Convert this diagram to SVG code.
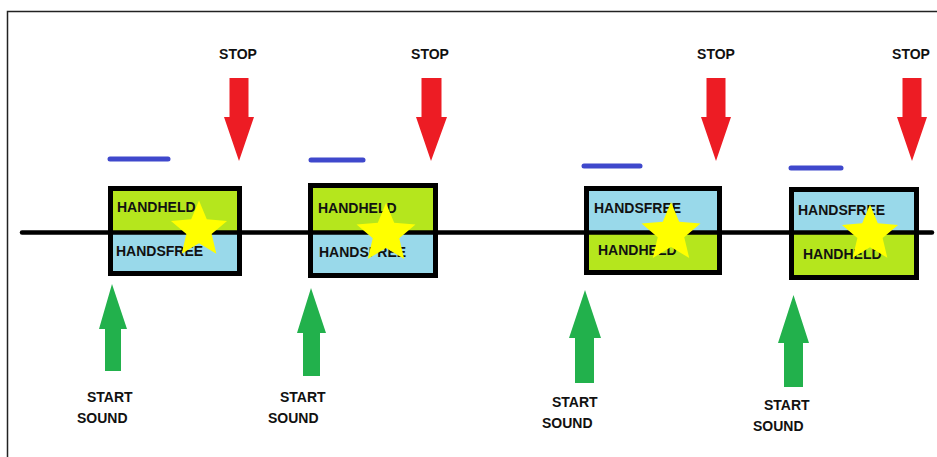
<svg xmlns="http://www.w3.org/2000/svg" xmlns:xlink="http://www.w3.org/1999/xlink" width="937" height="457" viewBox="0 0 937 457">
<style>
.lbl{font-family:"Liberation Sans",Arial,sans-serif;font-weight:bold;font-size:14px;fill:#111}
.green{fill:#b5e61d}
.blue{fill:#99d9ea}
.border{fill:none;stroke:#000;stroke-width:5}
.star{fill:#ffff00}
.bar{stroke:#3f48cc;stroke-width:5;stroke-linecap:round}
.red{fill:#ed1c24}
.go{fill:#22b14c}
</style>
<defs>
<path id="star" d="M0,-1 L0.2646,-0.364 L0.951,-0.309 L0.428,0.139 L0.588,0.809 L0,0.45 L-0.588,0.809 L-0.428,0.139 L-0.951,-0.309 L-0.2646,-0.364 Z"/>
</defs>
<rect width="937" height="457" fill="#fff"/>
<g id="frame" fill="none" stroke="#222" stroke-width="1.5">
<path d="M7.5,457 V11.5 H937"/>
</g>
<g id="box1">
<rect class="green" x="110" y="188" width="130" height="44"/>
<rect class="blue" x="110" y="232" width="130" height="42"/>
<text class="lbl" x="117" y="212">HANDHELD</text>
<text class="lbl" x="116" y="256">HANDSFREE</text>
</g>
<g id="box2">
<rect class="green" x="310" y="185" width="126" height="47"/>
<rect class="blue" x="310" y="232" width="126" height="44"/>
<text class="lbl" x="318" y="213">HANDHELD</text>
<text class="lbl" x="319" y="257">HANDSFREE</text>
</g>
<g id="box3">
<rect class="blue" x="586" y="188" width="134" height="44"/>
<rect class="green" x="586" y="232" width="134" height="41"/>
<text class="lbl" x="594" y="213">HANDSFREE</text>
<text class="lbl" x="598" y="255">HANDHELD</text>
</g>
<g id="box4">
<rect class="blue" x="791" y="189" width="126" height="43"/>
<rect class="green" x="791" y="232" width="126" height="46"/>
<text class="lbl" x="798" y="215">HANDSFREE</text>
<text class="lbl" x="803" y="259">HANDHELD</text>
</g>
<g id="connectors">
<line id="timeline" x1="22" y1="232.5" x2="932" y2="232.5" stroke="#000" stroke-width="4.5" stroke-linecap="round"/>
</g>
<g id="stars">
<use href="#star" class="star" transform="translate(199,230) scale(29.5)"/>
<use href="#star" class="star" transform="translate(386,234) scale(31)"/>
<use href="#star" class="star" transform="translate(671,233) scale(31)"/>
<use href="#star" class="star" transform="translate(870,234) scale(29.5)"/>
</g>
<g id="borders">
<rect class="border" x="110.5" y="188.5" width="129" height="85"/>
<rect class="border" x="310.5" y="185.5" width="125" height="90"/>
<rect class="border" x="586.5" y="188.5" width="133" height="84"/>
<rect class="border" x="791.5" y="189.5" width="125" height="88"/>
</g>
<g id="bars">
<line class="bar" x1="110" y1="159" x2="168" y2="159"/>
<line class="bar" x1="311" y1="160" x2="363" y2="160"/>
<line class="bar" x1="584" y1="166" x2="640" y2="166"/>
<line class="bar" x1="791" y1="168" x2="841" y2="168"/>
</g>
<g id="stop1">
<text class="lbl" x="238" y="59" text-anchor="middle">STOP</text>
<polygon class="red" points="229.5,78 248.5,78 248.5,117 254,117 239,161 224,117 229.5,117"/>
</g>
<g id="stop2">
<text class="lbl" x="430" y="59" text-anchor="middle">STOP</text>
<polygon class="red" points="421.5,78 441.5,78 441.5,117 447,117 431,161 416,117 421.5,117"/>
</g>
<g id="stop3">
<text class="lbl" x="716" y="59" text-anchor="middle">STOP</text>
<polygon class="red" points="706.5,78 725.5,78 725.5,117 731,117 716,161 701,117 706.5,117"/>
</g>
<g id="stop4">
<text class="lbl" x="911" y="59" text-anchor="middle">STOP</text>
<polygon class="red" points="902.5,78 921.5,78 921.5,117 927,117 912,161 897,117 902.5,117"/>
</g>
<g id="start1">
<polygon class="go" points="112,284 127,329 121,329 121,371 105,371 105,329 99,329"/>
<text class="lbl" x="87" y="402">START</text>
<text class="lbl" x="77" y="423">SOUND</text>
</g>
<g id="start2">
<polygon class="go" points="311,288 326,333 320,333 320,376 303,376 303,333 297,333"/>
<text class="lbl" x="280" y="402">START</text>
<text class="lbl" x="268" y="423">SOUND</text>
</g>
<g id="start3">
<polygon class="go" points="585,290 601,338 594,338 594,383 575,383 575,338 569,338"/>
<text class="lbl" x="552" y="407">START</text>
<text class="lbl" x="542" y="428">SOUND</text>
</g>
<g id="start4">
<polygon class="go" points="793.5,295 809,343 803,343 803,387 784,387 784,343 778,343"/>
<text class="lbl" x="764" y="410">START</text>
<text class="lbl" x="753" y="431">SOUND</text>
</g>
</svg>
